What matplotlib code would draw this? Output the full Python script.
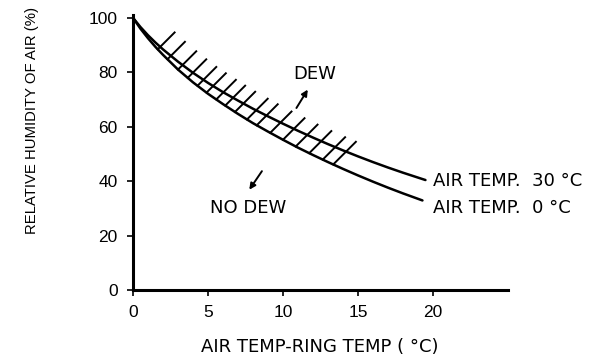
import matplotlib
matplotlib.use("Agg")
import matplotlib.pyplot as plt
import numpy as np

# curve data
temp_diff_30 = [0, 0.5, 1, 1.5, 2, 3, 4, 5, 6, 7, 8, 9, 10, 11, 12, 13, 14,
                15, 16, 17, 18, 19, 19.5]
rh_30 = [100, 96.6, 93.6, 90.9, 88.4, 83.9, 79.8, 76.1, 72.7, 69.6, 66.6,
         63.8, 61.1, 58.5, 56.0, 53.6, 51.3, 49.1, 47.0, 45.0, 43.1, 41.3,
         40.4]
temp_diff_0 = [0, 0.5, 1, 1.5, 2, 3, 4, 5, 6, 7, 8, 9, 10, 11, 12, 13, 14,
               15, 16, 17, 18, 19, 19.3]
rh_0 = [100, 96.0, 92.5, 89.3, 86.4, 81.0, 76.3, 72.1, 68.3, 64.7, 61.3,
        58.2, 55.2, 52.3, 49.6, 47.0, 44.5, 42.1, 39.8, 37.6, 35.5, 33.5,
        32.9]

# start positions of the hatch strokes (on the 0 degC curve)
hatch_x = [1.65, 2.3, 3.0, 3.65, 4.3, 4.9, 5.55, 6.15, 6.8, 7.6, 8.25, 9.15,
           10.0, 10.85, 11.75, 12.65, 13.35]

x_ticks = [0, 5, 10, 15, 20]
y_ticks = [0, 20, 40, 60, 80, 100]

plt.rcParams['font.family'] = ['DejaVu Sans']

fig = plt.figure(figsize=(5.98, 3.57), dpi=100)
ax = fig.add_axes([0.2224, 0.1877, 0.627, 0.770])

ax.plot(temp_diff_30, rh_30, color='black', lw=1.8, solid_capstyle='round')
ax.plot(temp_diff_0, rh_0, color='black', lw=1.8, solid_capstyle='round')

ax.set_xlim(0, 25)
ax.set_ylim(0, 101)

# hatch strokes: 45 deg on screen, from the lower curve past the upper one
fig.canvas.draw()
to_px = ax.transData
to_data = ax.transData.inverted()
for x0 in hatch_x:
    y0 = np.interp(x0, temp_diff_0, rh_0)
    p0 = to_px.transform((x0, y0))
    cross = 0
    for t in np.arange(0, 80, 0.5):
        xd, yd = to_data.transform(p0 + np.array([t, t]))
        if yd > np.interp(xd, temp_diff_30, rh_30):
            cross = t
            break
    end = 15.5 + 0.55 * cross
    d0 = to_data.transform(p0)
    d1 = to_data.transform(p0 + np.array([end, end]))
    ax.plot([d0[0], d1[0]], [d0[1], d1[1]], color='black', lw=1.4)

# arrows
ax.annotate('', xy=(11.75, 74.5), xytext=(10.8, 66),
            arrowprops=dict(arrowstyle='-|>', color='black', lw=1.4,
                            mutation_scale=9))
ax.annotate('', xy=(7.65, 36), xytext=(8.7, 44.5),
            arrowprops=dict(arrowstyle='-|>', color='black', lw=1.4,
                            mutation_scale=9))

ax.text(12.13, 79.5, 'DEW', ha='center', va='center', fontsize=13)
ax.text(7.7, 30, 'NO DEW', ha='center', va='center', fontsize=13)
ax.text(20.0, 40, 'AIR TEMP.  30 °C', ha='left', va='center', fontsize=13)
ax.text(20.0, 30.2, 'AIR TEMP.  0 °C', ha='left', va='center', fontsize=13)

ax.set_xticks(x_ticks)
ax.set_yticks(y_ticks)
ax.tick_params(direction='out', length=4, width=1.2, labelsize=12.5, pad=7)
for lab in ax.get_xticklabels() + ax.get_yticklabels():
    lab.set_family(['Liberation Sans', 'DejaVu Sans'])
for s in ['top', 'right']:
    ax.spines[s].set_visible(False)
for s in ['left', 'bottom']:
    ax.spines[s].set_linewidth(2.2)

fig.text(320 / 598, 1 - 347 / 357, 'AIR TEMP-RING TEMP ( °C)',
         ha='center', va='center', fontsize=13)
fig.text(32 / 598, 1 - 120 / 357, 'RELATIVE HUMIDITY OF AIR (%)',
         ha='center', va='center', rotation=90, fontsize=10.7,
         family=['Liberation Sans', 'DejaVu Sans'])

fig.savefig('out.png', dpi=100)
